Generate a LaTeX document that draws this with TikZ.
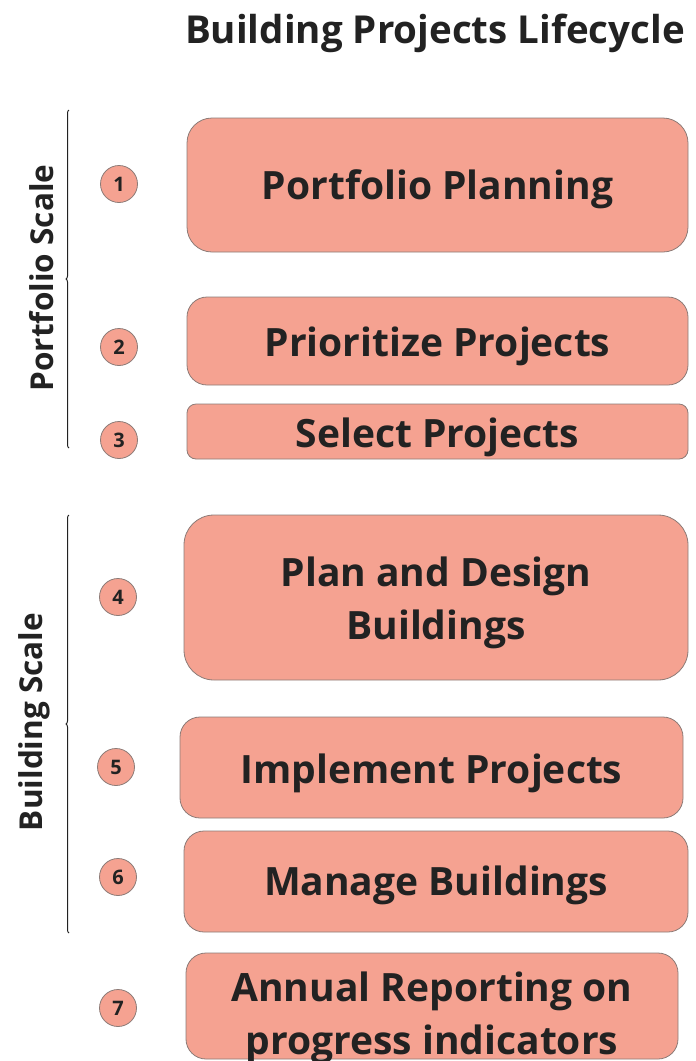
\documentclass[tikz,border=0pt]{standalone}
\usepackage{fontspec}
\setmainfont{Open Sans}
\usetikzlibrary{decorations.pathreplacing}
\definecolor{salmon}{HTML}{F5A291}
\definecolor{edge}{HTML}{8C7B77}
\definecolor{ink}{HTML}{222222}
\tikzset{
  stagebox/.style={draw=edge, line width=0.8pt, fill=salmon, inner sep=0pt},
  stagetext/.style={text=ink, font=\bfseries\fontsize{39}{53}\selectfont, align=center, inner sep=0pt},
  numdot/.style={circle, draw=edge, line width=0.8pt, fill=salmon, text=ink, minimum size=37pt, inner sep=0pt, font=\bfseries\fontsize{20}{20}\selectfont},
  scalebrace/.style={decorate, decoration={brace, amplitude=3pt}, line width=1pt, draw=ink},
  scalelabel/.style={rotate=90, text=ink, font=\bfseries\fontsize{31.5}{36}\selectfont},
}
\begin{document}
\begin{tikzpicture}[x=1pt,y=-1pt]
\useasboundingbox (0,0) rectangle (696,1061);
\clip (0,0) rectangle (696,1061);
\node[text=ink, font=\bfseries\fontsize{38.5}{44}\selectfont] (title) at (435,33) {Building Projects Lifecycle};

\node[stagebox, rounded corners=25pt, minimum width=501pt, minimum height=134pt] (b1) at (437.5,185) {};
\node[stagebox, rounded corners=20pt, minimum width=501pt, minimum height=88pt] (b2) at (437.5,341) {};
\node[stagebox, rounded corners=9pt, minimum width=501pt, minimum height=55pt] (b3) at (437.5,431.5) {};
\node[stagebox, rounded corners=30pt, minimum width=504pt, minimum height=165pt] (b4) at (436,597.5) {};
\node[stagebox, rounded corners=20pt, minimum width=503pt, minimum height=101pt] (b5) at (431.5,767.5) {};
\node[stagebox, rounded corners=20pt, minimum width=504pt, minimum height=101pt] (b6) at (436,881.5) {};
\node[stagebox, rounded corners=20pt, minimum width=492pt, minimum height=106pt] (b7) at (432,1006) {};

\node[stagetext, yshift=-4pt] (t1) at (b1.center) {Portfolio Planning};
\node[stagetext, yshift=-5pt] (t2) at (b2.center) {Prioritize Projects};
\node[stagetext, yshift=-6pt] (t3) at (b3.center) {Select Projects};
\node[stagetext, yshift=-5pt] (t4) at (b4.center) {Plan and Design\\Buildings};
\node[stagetext, yshift=-6pt] (t5) at (b5.center) {Implement Projects};
\node[stagetext, yshift=-4pt] (t6) at (b6.center) {Manage Buildings};
\node[stagetext, yshift=-12pt] (t7) at (b7.center) {Annual Reporting on\\progress indicators};

\node[numdot] (n1) at (119,184) {1};
\node[numdot] (n2) at (119,347) {2};
\node[numdot] (n3) at (119,440) {3};
\node[numdot] (n4) at (118,597) {4};
\node[numdot] (n5) at (116,767) {5};
\node[numdot] (n6) at (118,877) {6};
\node[numdot] (n7) at (118,1008) {7};

\coordinate (pt) at (69,110);
\coordinate (pb) at (69,448);
\coordinate (bt) at (69,515);
\coordinate (bb) at (69,933);
\draw[scalebrace] (pb) -- (pt);
\draw[scalebrace] (bb) -- (bt);
\node[scalelabel] (plabel) at (42,278) {Portfolio Scale};
\node[scalelabel] (blabel) at (34,722) {Building Scale};
\end{tikzpicture}
\end{document}
